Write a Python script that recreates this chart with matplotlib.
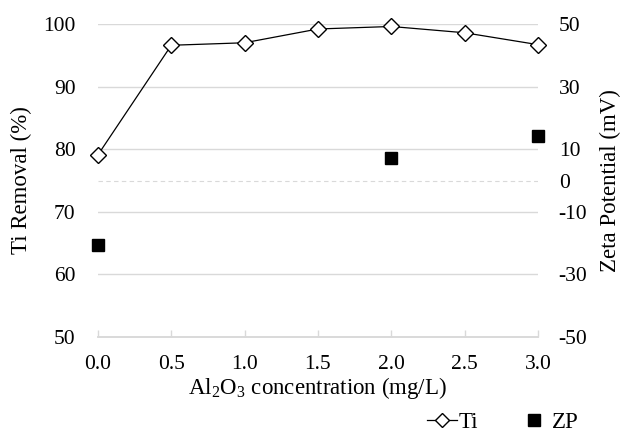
import matplotlib.pyplot as plt
import numpy as np

plt.rcParams['font.family'] = ['Liberation Serif', 'DejaVu Serif']
plt.rcParams['mathtext.fontset'] = 'custom'
plt.rcParams['mathtext.rm'] = 'Liberation Serif'
plt.rcParams['axes.unicode_minus'] = False

# Al2O3 dose (mg/L)
conc = [0.0, 0.5, 1.0, 1.5, 2.0, 2.5, 3.0]
ti_removal = [79.1, 96.6, 97.0, 99.2, 99.6, 98.6, 96.7]

# zeta potential only measured at three doses
zp_conc = [0.0, 2.0, 3.0]
zp = [-20.6, 7.2, 14.2]

x_ticks = [0.0, 0.5, 1.0, 1.5, 2.0, 2.5, 3.0]
left_ticks = [50, 60, 70, 80, 90, 100]
right_ticks = [-50, -30, -10, 0, 10, 30, 50]

fs = 15.5
grid_col = '#d9d9d9'

fig = plt.figure(figsize=(6.24, 4.36), dpi=100)
ax = fig.add_axes([0.157, 0.227, 0.705, 0.718])
ax2 = ax.twinx()

ax.set_xlim(0, 3)
ax.set_ylim(50, 100)
ax2.set_ylim(-50, 50)

for y in left_ticks[1:]:
    ax.axhline(y, color=grid_col, lw=1.0, zorder=0)
ax2.axhline(0, color=grid_col, lw=0.8, ls=(0, (4, 3)), zorder=0)

ax.plot(conc, ti_removal, color='black', lw=0.9, marker='D', ms=8,
        mfc='white', mec='black', mew=1.0, clip_on=False, zorder=3,
        label='Ti')
ax2.plot(zp_conc, zp, ls='none', marker='s', ms=9, color='black',
         clip_on=False, zorder=3, label='ZP')

for a in (ax, ax2):
    for s in ('top', 'left', 'right'):
        a.spines[s].set_visible(False)
    a.spines['bottom'].set_color(grid_col)
    a.spines['bottom'].set_linewidth(1.2)

ax.set_xticks(x_ticks)
ax.set_xticklabels([f'{v:.1f}' for v in x_ticks])
ax.tick_params(axis='x', direction='in', length=5, color=grid_col,
               width=1.0, labelsize=fs, pad=13)
ax.set_yticks(left_ticks)
ax.tick_params(axis='y', length=0, labelsize=fs, pad=16)
ax2.set_yticks(right_ticks)
ax2.tick_params(axis='y', length=0, labelsize=fs, pad=15)

ax.set_xlabel('Al$_2$O$_3$ concentration (mg/L)', fontsize=fs + 1, labelpad=1)
ax.set_ylabel('Ti Removal (%)', fontsize=fs + 1, labelpad=8)
ax2.set_ylabel('Zeta Potential (mV)', fontsize=fs + 1, labelpad=9)

h1, l1 = ax.get_legend_handles_labels()
h2, l2 = ax2.get_legend_handles_labels()
fig.legend(h1 + h2, l1 + l2, loc='lower right', bbox_to_anchor=(0.96, -0.04),
           ncol=2, frameon=False, fontsize=fs + 1, handlelength=1.3,
           handletextpad=0.1, columnspacing=1.8, markerscale=0.9)

fig.savefig('out.png', dpi=100)
